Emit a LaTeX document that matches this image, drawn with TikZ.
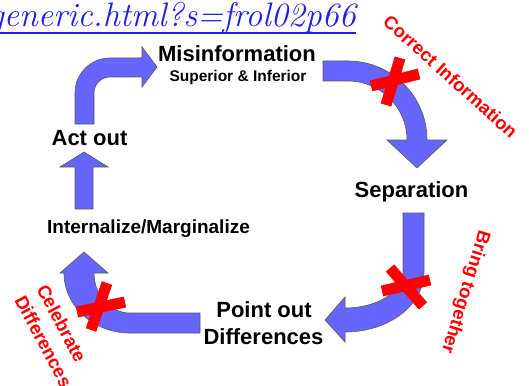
\documentclass[tikz,border=0pt]{standalone}
\usepackage{fontspec}
\newfontfamily\arial{Liberation Sans}
\usepackage{tikz}
\usetikzlibrary{positioning}
\definecolor{arrowblue}{RGB}{102,102,255}
\definecolor{linkblue}{RGB}{30,30,235}
\tikzset{
  bigarrow/.style={fill=arrowblue, draw=black!65, line width=0.6pt},
  crossbar/.style={draw=red, line width=11pt},
  steplabel/.style={font=\arial\fontsize{22}{27}\selectfont\bfseries, inner sep=0pt},
  midlabel/.style={font=\arial\fontsize{19}{23}\selectfont\bfseries, inner sep=0pt},
  sublabel/.style={font=\arial\fontsize{15.5}{18}\selectfont\bfseries, inner sep=0pt},
  fixlabel/.style={font=\arial\fontsize{18.5}{23}\selectfont\bfseries, text=red, inner sep=0pt}
}

\begin{document}
\begin{tikzpicture}[x=1pt, y=-1pt]
\useasboundingbox (0,0) rectangle (529,385);

% Link at the top
\node[anchor=base east, text=linkblue, font=\fontsize{34}{34}\selectfont\itshape, inner sep=0pt] (link) at (356,27) {generic.html?s=frol02p66};
\coordinate (ulstart) at (0,33);
\draw[linkblue, line width=1.2pt] (ulstart) -- (ulstart -| link.east);

% Arrows of the cycle
\draw[bigarrow] (75,124) -- (75,93) arc[start angle=180, end angle=270, radius=35] -- (142,58) -- (142,47) -- (157,67) -- (142,87) -- (142,77) -- (110,77) arc[start angle=270, end angle=180, radius=16] -- (94,124) -- cycle;
\draw[bigarrow] (323,61) -- (348,61) arc[start angle=270, end angle=360, radius=79] -- (447,140) -- (417,168) -- (387,140) -- (407,140) arc[start angle=0, end angle=-90, radius=59] -- (323,81) -- cycle;
\draw[bigarrow] (403,213) -- (424,213) -- (424,272) arc[start angle=0, end angle=90, x radius=79, y radius=60] -- (345,342) -- (325,320) -- (345,297) -- (345,308) arc[start angle=90, end angle=0, x radius=58, y radius=36] -- cycle;
\draw[bigarrow] (200,313) -- (130,313) arc[start angle=90, end angle=180, x radius=36, y radius=40] -- (108,273) -- (84,252) -- (60,273) -- (64,273) arc[start angle=180, end angle=90, x radius=66, y radius=60] -- (200,333) -- cycle;
\draw[bigarrow] (75,209) -- (75,167) -- (60,167) -- (84,152) -- (108,167) -- (93,167) -- (93,209) -- cycle;

% Crosses
\foreach \ax/\ay/\bx/\by/\cx/\cy/\dx/\dy in {371/86/419/74/400/58/386/105, 382/291/430/280/390/268/423/306, 77/312/125/302/107/283/91/330}
    \draw[crossbar] (\ax,\ay) -- (\bx,\by) (\cx,\cy) -- (\dx,\dy);

% Steps
\node[steplabel, anchor=base] (misinfo) at (237,62) {Misinformation};
\node[sublabel, anchor=base] (supinf) at (238,82) {Superior \& Inferior};
\node[steplabel, anchor=base] (sep) at (411.5,197) {Separation};
\node[steplabel, anchor=base] (pointout) at (264,317) {Point out};
\node[steplabel, anchor=base] (differ) at (263.5,344) {Differences};
\node[midlabel, anchor=base] (intern) at (148.5,233) {Internalize/Marginalize};
\node[steplabel, anchor=base] (actout) at (89.5,145) {Act out};

% Red notes
\node[fixlabel, rotate=-42] (correct) at (450.5,76.5) {Correct Information};
\node[fixlabel, rotate=-107] (bring) at (465,292) {Bring together};
\node[fixlabel, rotate=-62, anchor=base west] (celeb) at (36,289) {Celebrate};
\node[fixlabel, rotate=-62, anchor=base west] (celebdiff) at (14,300) {Differences};

\end{tikzpicture}
\end{document}
